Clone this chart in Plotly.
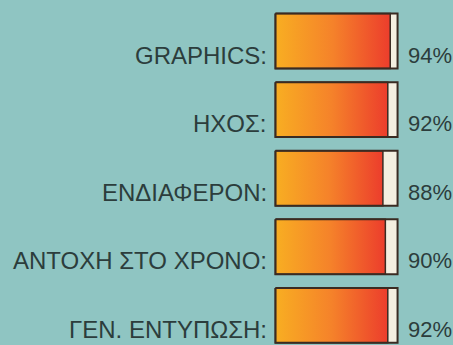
import plotly.graph_objects as go

# Review score card: one gradient gauge per category
categories = ["GRAPHICS:", "ΗΧΟΣ:", "ΕΝΔΙΑΦΕΡΟΝ:", "ΑΝΤΟΧΗ ΣΤΟ ΧΡΟΝΟ:", "ΓΕΝ. ΕΝΤΥΠΩΣΗ:"]
scores = [94, 92, 88, 90, 92]
score_labels = ["94%", "92%", "88%", "90%", "92%"]
max_score = 100

BG = "#8fc5c2"
CREAM = "#f4efe0"
EDGE = "#3a2b22"
TEXT = "#2c3d3c"
HALF = 0.4  # half bar thickness in row units

fig = go.Figure()

for i, (v, label, pct) in enumerate(zip(scores, categories, score_labels)):
    y0, y1 = i - HALF, i + HALF
    # empty gauge background
    fig.add_trace(go.Scatter(
        x=[0, max_score, max_score, 0, 0], y=[y0, y0, y1, y1, y0],
        mode="lines", fill="toself", fillcolor=CREAM,
        line=dict(width=0, color=CREAM), hoverinfo="skip", showlegend=False))
    # filled part with warm gradient
    fig.add_trace(go.Scatter(
        x=[0, v, v, 0, 0], y=[y0, y0, y1, y1, y0],
        mode="lines", fill="toself",
        fillgradient=dict(type="horizontal",
                          colorscale=[[0, "#f8ae22"], [0.5, "#f5822a"], [1, "#ec3d2c"]]),
        line=dict(width=1.5, color=EDGE), hoverinfo="skip", showlegend=False))
    # gauge outline
    fig.add_trace(go.Scatter(
        x=[0, max_score, max_score, 0, 0], y=[y0, y0, y1, y1, y0],
        mode="lines", line=dict(width=2, color=EDGE),
        hoverinfo="skip", showlegend=False))

    fig.add_annotation(x=0, y=i, xref="x", yref="y", text=label, showarrow=False,
                       xanchor="right", yanchor="middle", xshift=-6, yshift=-14,
                       font=dict(family="Liberation Sans, Arial", size=24, color=TEXT))
    fig.add_annotation(x=max_score, y=i, xref="x", yref="y", text=pct, showarrow=False,
                       xanchor="left", yanchor="middle", xshift=8, yshift=-14,
                       font=dict(family="Liberation Sans, Arial", size=22, color=TEXT))

fig.update_layout(
    width=453, height=345, autosize=False,
    margin=dict(l=273, r=53, t=0, b=0, pad=0),
    paper_bgcolor=BG, plot_bgcolor=BG,
    xaxis=dict(range=[-2, 102], visible=False, fixedrange=True),
    yaxis=dict(range=[4.432, -0.598], visible=False, fixedrange=True),
    showlegend=False,
)

fig.write_html("out.html")
